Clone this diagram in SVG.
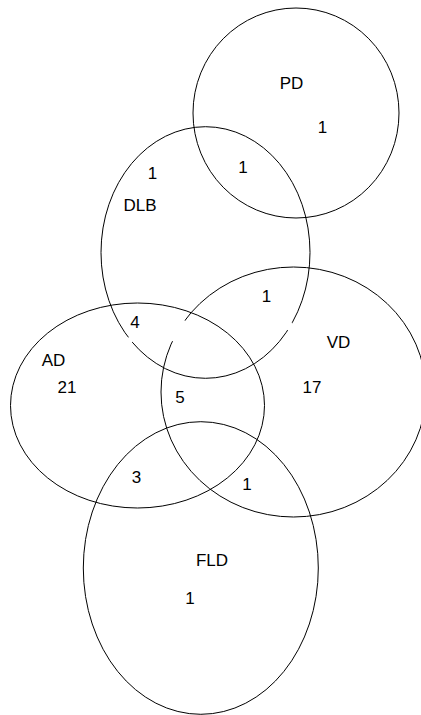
<svg xmlns="http://www.w3.org/2000/svg" width="421" height="715" viewBox="0 0 421 715">
  <style>
    .set { fill: none; stroke: #000; stroke-width: 1; }
    .lbl { font-family: "Liberation Sans", Arial, sans-serif; font-size: 17px; fill: #000; text-anchor: middle; }
  </style>
  <defs>
    <mask id="m-dlb" maskUnits="userSpaceOnUse" x="0" y="0" width="421" height="715">
      <rect x="0" y="0" width="421" height="715" fill="#fff"/>
      <circle cx="130" cy="340" r="3" fill="#000"/>
      <circle cx="289.5" cy="326.5" r="4" fill="#000"/>
    </mask>
    <mask id="m-vd" maskUnits="userSpaceOnUse" x="0" y="0" width="421" height="715">
      <rect x="0" y="0" width="421" height="715" fill="#fff"/>
      <circle cx="178" cy="330.5" r="12" fill="#000"/>
    </mask>
  </defs>
  <rect x="0" y="0" width="421" height="715" fill="#fff"/>

  <g id="PD">
    <ellipse class="set" cx="296" cy="113" rx="103" ry="105"/>
    <text class="lbl" x="291.5" y="89">PD</text>
  </g>
  <g id="DLB">
    <ellipse class="set" cx="205.5" cy="252.5" rx="104.5" ry="125.8" mask="url(#m-dlb)"/>
    <text class="lbl" x="140" y="211">DLB</text>
  </g>
  <g id="AD">
    <ellipse class="set" cx="137.5" cy="405.5" rx="127" ry="102.5"/>
    <text class="lbl" x="53.5" y="366">AD</text>
  </g>
  <g id="VD">
    <ellipse class="set" cx="293.5" cy="392" rx="132.5" ry="125" mask="url(#m-vd)"/>
    <text class="lbl" x="338.5" y="348">VD</text>
  </g>
  <g id="FLD">
    <ellipse class="set" cx="200.8" cy="568" rx="117.5" ry="146.3"/>
    <text class="lbl" x="212" y="566">FLD</text>
  </g>

  <g id="counts">
    <text class="lbl" x="322.5" y="133">1</text>
    <text class="lbl" x="243" y="173">1</text>
    <text class="lbl" x="152.5" y="179">1</text>
    <text class="lbl" x="266.5" y="302">1</text>
    <text class="lbl" x="135" y="328">4</text>
    <text class="lbl" x="67" y="393">21</text>
    <text class="lbl" x="312" y="393">17</text>
    <text class="lbl" x="180" y="403">5</text>
    <text class="lbl" x="136.5" y="483">3</text>
    <text class="lbl" x="247" y="490">1</text>
    <text class="lbl" x="190" y="604">1</text>
  </g>
</svg>
